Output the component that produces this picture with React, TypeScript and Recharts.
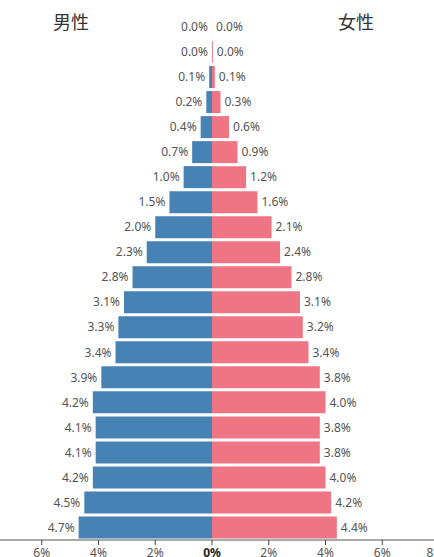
import React from 'react';
import { BarChart, Bar, XAxis, YAxis, LabelList } from 'recharts';

const ageGroups = ['100+', '95-99', '90-94', '85-89', '80-84', '75-79', '70-74', '65-69', '60-64', '55-59', '50-54', '45-49', '40-44', '35-39', '30-34', '25-29', '20-24', '15-19', '10-14', '5-9', '0-4'];
const maleValues = [0.001, 0.001, 0.1, 0.2, 0.4, 0.7, 1.0, 1.5, 2.0, 2.3, 2.8, 3.1, 3.3, 3.4, 3.9, 4.2, 4.1, 4.1, 4.2, 4.5, 4.7];
const femaleValues = [0.001, 0.03, 0.1, 0.3, 0.6, 0.9, 1.2, 1.6, 2.1, 2.4, 2.8, 3.1, 3.2, 3.4, 3.8, 4.0, 3.8, 3.8, 4.0, 4.2, 4.4];
const xTicks = [-8, -6, -4, -2, 0, 2, 4, 6, 8];

const data = ageGroups.map((age, i) => ({ age, male: -maleValues[i], female: femaleValues[i] }));

const LABEL_FONT = '"Noto Sans", "DejaVu Sans", sans-serif';

const MaleLabel = (props: any) => {
  const { x, y, width, height, value } = props;
  const left = Math.min(Number(x), Number(x) + Number(width));
  return (
    <text x={left - 4} y={Number(y) + Number(height) / 2} dy="0.35em" textAnchor="end" fontSize={12} fill="#555" fontFamily={LABEL_FONT}>
      {Math.abs(Number(value)).toFixed(1)}%
    </text>
  );
};

const FemaleLabel = (props: any) => {
  const { x, y, width, height, value } = props;
  const right = Math.max(Number(x), Number(x) + Number(width));
  return (
    <text x={right + 4} y={Number(y) + Number(height) / 2} dy="0.35em" textAnchor="start" fontSize={12} fill="#555" fontFamily={LABEL_FONT}>
      {Math.abs(Number(value)).toFixed(1)}%
    </text>
  );
};

const Tick = (props: any) => {
  const { x, y, payload } = props;
  const isZero = payload.value === 0;
  return (
    <text x={x} y={y} dy="0.71em" textAnchor="middle" fontSize={12} fill={isZero ? '#222' : '#555'} fontWeight={isZero ? 700 : 400} fontFamily={LABEL_FONT}>
      {Math.abs(payload.value)}%
    </text>
  );
};

export default function App() {
  return (
    <div style={{ position: 'fixed', left: 0, top: 0, width: 434, height: 557, overflow: 'hidden', background: '#fff' }}>
      <div style={{ position: 'absolute', left: 53, top: 8, fontSize: 18, color: '#333', fontFamily: '"Noto Sans CJK JP", sans-serif' }}>男性</div>
      <div style={{ position: 'absolute', left: 338, top: 8, fontSize: 18, color: '#333', fontFamily: '"Noto Sans CJK JP", sans-serif' }}>女性</div>
      <div style={{ position: 'absolute', left: -15, top: 0 }}>
        <BarChart
          width={454}
          height={570}
          data={data}
          layout="vertical"
          stackOffset="sign"
          barCategoryGap={1.5}
          margin={{ top: 14.5, right: 0, bottom: 0, left: 0 }}
        >
          <XAxis
            type="number"
            domain={[-8, 8]}
            ticks={xTicks}
            height={30}
            tick={<Tick />}
            tickSize={5}
            tickMargin={3}
            axisLine={{ stroke: '#555' }}
            tickLine={{ stroke: '#444' }}
            allowDataOverflow
          />
          <YAxis type="category" dataKey="age" hide />
          <Bar dataKey="male" stackId="a" fill="#4682B4" isAnimationActive={false}>
            <LabelList dataKey="male" content={<MaleLabel />} />
          </Bar>
          <Bar dataKey="female" stackId="a" fill="#F07584" isAnimationActive={false}>
            <LabelList dataKey="female" content={<FemaleLabel />} />
          </Bar>
        </BarChart>
      </div>
    </div>
  );
}
